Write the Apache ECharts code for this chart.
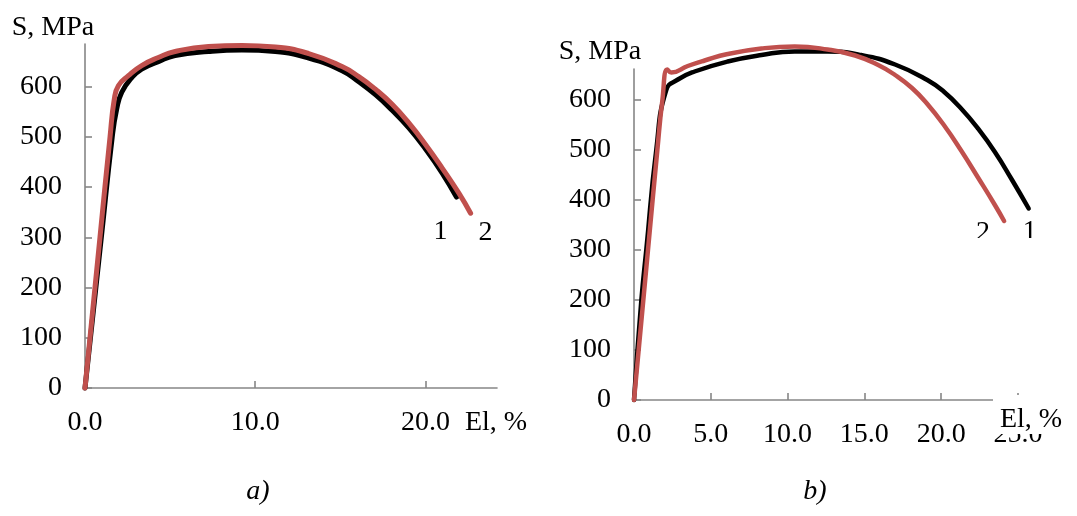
<!DOCTYPE html>
<html>
<head>
<meta charset="utf-8">
<script src="https://cdn.jsdelivr.net/npm/echarts@6/dist/echarts.min.js"></script>
<style>
  html, body { margin: 0; padding: 0; background: #fff; }
  #chart { width: 1077px; height: 516px; }
</style>
</head>
<body>
<div id="chart"></div>
<script>
// ---- Data ----
// Panel a)
const aStrain1 = [0, 0.96, 1.6, 1.86, 2.16, 2.75, 3.33, 4.31, 5.29, 7.25, 9.22, 11.18, 13.14, 15.1, 16.08, 17.06, 18.04, 19.02, 20.0, 20.98, 21.82];
const aStress1 = [0, 300, 500, 555, 589, 618, 635, 650, 662, 670, 673, 670, 657, 632, 610, 584, 553, 518, 476, 428, 380];
const aStrain2 = [0, 0.88, 1.47, 1.72, 1.96, 2.55, 3.33, 4.31, 5.29, 7.25, 9.22, 11.18, 13.14, 15.1, 16.08, 17.06, 18.04, 19.02, 20.0, 20.98, 21.96, 22.65];
const aStress2 = [0, 300, 500, 575, 602, 622, 642, 658, 670, 680, 682, 679, 666, 640, 620, 595, 565, 528, 485, 438, 388, 348];
// Panel b)
const bStrain1 = [0, 0.48, 0.8, 1.45, 2.1, 2.86, 3.95, 6.1, 8.3, 10.46, 12.6, 14.8, 17.0, 19.1, 20.2, 21.3, 22.4, 23.5, 24.6, 25.7];
const bStress1 = [0, 200, 300, 500, 620, 641, 657, 677, 690, 697, 697, 690, 671, 640, 616, 583, 543, 496, 441, 383];
const bStrain2 = [0, 0.91, 1.52, 1.85, 2.17, 2.43, 3.5, 4.6, 6.1, 8.3, 10.46, 12.6, 14.4, 15.9, 17.0, 18.1, 19.1, 20.2, 21.3, 22.4, 23.5, 24.1];
const bStress2 = [0, 300, 500, 600, 661, 655, 668, 679, 692, 703, 707, 701, 689, 670, 650, 624, 592, 549, 499, 445, 390, 358];
// Tick labels
const aXTicks = [0, 10, 20];
const bXTicks = [0, 5, 10, 15, 20, 25];
const yTicks = [0, 100, 200, 300, 400, 500, 600];
const curveNames = ['1', '2'];
const panelCaptions = ['a)', 'b)'];
const yTitle = 'S, MPa';
const xTitle = 'El, %';

// ---- Styles ----
const FONT = 'Liberation Serif';
const FS = 28;
const AXIS_COLOR = '#868686';
const RED = '#C0504D';
const BLACK = '#000000';

function zip(xs, ys) { return xs.map((x, i) => [x, ys[i]]); }

function xAxisDef(idx, max, ticks) {
  return {
    type: 'value', gridIndex: idx, min: 0, max: max,
    axisLine: { show: true, lineStyle: { color: AXIS_COLOR, width: 1.6 } },
    axisTick: { show: true, inside: true, length: 7, customValues: ticks, lineStyle: { color: AXIS_COLOR, width: 1.6 } },
    axisLabel: { customValues: ticks, formatter: v => v.toFixed(1), fontFamily: FONT, fontSize: FS, color: '#000', margin: 21 },
    splitLine: { show: false }
  };
}
function yAxisDef(idx, max) {
  return {
    type: 'value', gridIndex: idx, min: 0, max: max,
    axisLine: { show: true, lineStyle: { color: AXIS_COLOR, width: 1.6 } },
    axisTick: { show: true, inside: true, length: 7, customValues: yTicks, lineStyle: { color: AXIS_COLOR, width: 1.6 } },
    axisLabel: { customValues: yTicks, fontFamily: FONT, fontSize: FS, color: '#000', margin: 23 },
    splitLine: { show: false }
  };
}
function lineSeries(idx, xs, ys, color, width, name, offset) {
  const last = [xs[xs.length - 1], ys[ys.length - 1]];
  return {
    type: 'line', name: name, xAxisIndex: idx, yAxisIndex: idx,
    data: zip(xs, ys), showSymbol: false, symbol: 'none',
    smooth: 0.5, clip: false,
    lineStyle: { color: color, width: width, cap: 'round', join: 'round' },
    itemStyle: { color: color },
    emphasis: { disabled: true },
    markPoint: {
      symbol: 'circle', symbolSize: 0, silent: true, animation: false,
      data: [{ coord: last, value: name, label: { show: true, formatter: name, offset: offset, fontFamily: FONT, fontSize: FS, color: '#000' } }]
    }
  };
}

const chart = echarts.init(document.getElementById('chart'), null, { renderer: 'canvas' });
chart.setOption({
  backgroundColor: '#fff',
  animation: false,
  grid: [
    { left: 85, top: 44, right: 580, bottom: 128 },
    { left: 634, top: 69, right: 13, bottom: 116 }
  ],
  xAxis: [xAxisDef(0, 24.2, aXTicks), xAxisDef(1, 28, bXTicks)],
  yAxis: [yAxisDef(0, 685), yAxisDef(1, 662)],
  series: [
    lineSeries(0, aStrain1, aStress1, BLACK, 5, curveNames[0], [-16, 34]),
    lineSeries(0, aStrain2, aStress2, RED, 5, curveNames[1], [15, 19]),
    lineSeries(1, bStrain1, bStress1, BLACK, 4.5, curveNames[0], [1, 23]),
    lineSeries(1, bStrain2, bStress2, RED, 4.5, curveNames[1], [-21, 12])
  ],
  graphic: [
    { type: 'rect', z: 100, shape: { x: 993, y: 395, width: 84, height: 39 }, style: { fill: '#fff' } },
    { type: 'rect', z: 100, shape: { x: 965, y: 238, width: 80, height: 14 }, style: { fill: '#fff' } },
    { type: 'text', z: 101, x: 53, y: 28, style: { text: yTitle, font: FS + 'px "' + FONT + '"', fill: '#000', align: 'center', verticalAlign: 'middle' } },
    { type: 'text', z: 101, x: 600, y: 52, style: { text: yTitle, font: FS + 'px "' + FONT + '"', fill: '#000', align: 'center', verticalAlign: 'middle' } },
    { type: 'text', z: 101, x: 496, y: 423, style: { text: xTitle, font: FS + 'px "' + FONT + '"', fill: '#000', align: 'center', verticalAlign: 'middle' } },
    { type: 'text', z: 101, x: 1031, y: 420, style: { text: xTitle, font: FS + 'px "' + FONT + '"', fill: '#000', align: 'center', verticalAlign: 'middle' } },
    { type: 'text', z: 101, x: 258, y: 492, style: { text: panelCaptions[0], font: 'italic ' + FS + 'px "' + FONT + '"', fill: '#000', align: 'center', verticalAlign: 'middle' } },
    { type: 'text', z: 101, x: 815, y: 492, style: { text: panelCaptions[1], font: 'italic ' + FS + 'px "' + FONT + '"', fill: '#000', align: 'center', verticalAlign: 'middle' } }
  ]
});
</script>
</body>
</html>
